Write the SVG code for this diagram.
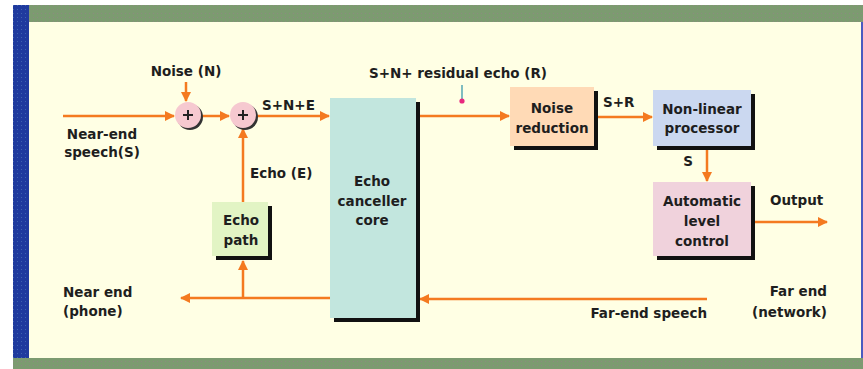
<svg xmlns="http://www.w3.org/2000/svg" width="863" height="369" viewBox="0 0 863 369">
<defs>
<style>
.t{font-family:"DejaVu Sans",sans-serif;font-weight:bold;font-size:13.5px;fill:#1e1e1e}
.m{text-anchor:middle}
.e{text-anchor:end}
.w{stroke:#F47A20;stroke-width:2.5;fill:none}
.sh{fill:#111}
</style>
<marker id="ah" viewBox="0 0 10 10" refX="9" refY="5" markerWidth="4" markerHeight="4" markerUnits="strokeWidth" orient="auto">
<path d="M0,0 L10,5 L0,10 z" fill="#F47A20"/>
</marker>
<pattern id="pg" width="4" height="4" patternUnits="userSpaceOnUse"><rect width="4" height="4" fill="#7C9B70"/><rect x="1" y="1" width="1" height="1" fill="#8C8A80"/></pattern>
<pattern id="pb" width="4" height="4" patternUnits="userSpaceOnUse"><rect width="4" height="4" fill="#1F3A9E"/><rect x="1" y="1" width="1" height="1" fill="#3E62B0"/></pattern>
</defs>
<rect x="0" y="0" width="863" height="369" fill="#ffffff"/>
<rect x="13" y="5" width="850" height="364" fill="#FFFFE4"/>
<rect x="13" y="5" width="850" height="17" fill="url(#pg)"/>
<rect x="13" y="358" width="850" height="11" fill="url(#pg)"/>
<rect x="13" y="5" width="16" height="353" fill="url(#pb)"/>
<rect x="861" y="22" width="2" height="336" fill="#4A5AC0"/>

<g id="connectors">
<path class="w" d="M63,116 H174" marker-end="url(#ah)"/>
<path class="w" d="M186,82 V101" marker-end="url(#ah)"/>
<path class="w" d="M201,116 H229" marker-end="url(#ah)"/>
<path class="w" d="M256,116 H329" marker-end="url(#ah)"/>
<path class="w" d="M243,202 V129" marker-end="url(#ah)"/>
<path class="w" d="M243,298 V261" marker-end="url(#ah)"/>
<path class="w" d="M330,298 H181" marker-end="url(#ah)"/>
<path class="w" d="M707,299 H420" marker-end="url(#ah)"/>
<path class="w" d="M419,116 H509" marker-end="url(#ah)"/>
<path class="w" d="M598,117 H652" marker-end="url(#ah)"/>
<path class="w" d="M707,150 V181" marker-end="url(#ah)"/>
<path class="w" d="M755,222 H827" marker-end="url(#ah)"/>
<line x1="462" y1="85" x2="462" y2="100" stroke="#2A90A8" stroke-width="1.2"/>
<circle cx="462" cy="101" r="2.6" fill="#E8287E"/>
</g>

<g id="sum1">
<circle cx="190" cy="117" r="13" fill="#333"/>
<circle cx="188" cy="115" r="13" fill="#F6C9D0"/>
<path d="M183,115 H193 M188,110 V120" stroke="#222" stroke-width="2"/>
</g>
<g id="sum2">
<circle cx="245" cy="117" r="13" fill="#333"/>
<circle cx="243" cy="115" r="13" fill="#F6C9D0"/>
<path d="M238,115 H248 M243,110 V120" stroke="#222" stroke-width="2"/>
</g>

<g id="echo-path">
<rect class="sh" x="216" y="206" width="56" height="54"/>
<rect x="212" y="202" width="56" height="54" fill="#E2F4C4"/>
<text class="t m" x="241" y="225">Echo</text>
<text class="t m" x="241" y="245">path</text>
</g>

<g id="echo-core">
<rect class="sh" x="334" y="102" width="86" height="220"/>
<rect x="330" y="98" width="86" height="220" fill="#C2E6DE"/>
<text class="t m" x="372" y="186">Echo</text>
<text class="t m" x="372" y="206">canceller</text>
<text class="t m" x="372" y="225">core</text>
</g>

<g id="noise-reduction">
<rect class="sh" x="514" y="91" width="84" height="59"/>
<rect x="510" y="87" width="84" height="59" fill="#FFDAB6"/>
<text class="t m" x="552" y="113">Noise</text>
<text class="t m" x="552" y="133">reduction</text>
</g>

<g id="nlp">
<rect class="sh" x="657" y="94" width="98" height="56"/>
<rect x="653" y="90" width="98" height="56" fill="#CBD8F0"/>
<text class="t m" x="702" y="114">Non-linear</text>
<text class="t m" x="702" y="133">processor</text>
</g>

<g id="alc">
<rect class="sh" x="657" y="186" width="98" height="74"/>
<rect x="653" y="182" width="98" height="74" fill="#F0D2DC"/>
<text class="t m" x="702" y="206">Automatic</text>
<text class="t m" x="702" y="226">level</text>
<text class="t m" x="702" y="246">control</text>
</g>

<g id="labels">
<text class="t m" x="186" y="76">Noise (N)</text>
<text class="t" x="262" y="110">S+N+E</text>
<text class="t m" x="102" y="139">Near-end</text>
<text class="t m" x="102" y="157">speech(S)</text>
<text class="t" x="250" y="178">Echo (E)</text>
<text class="t m" x="458" y="78">S+N+ residual echo (R)</text>
<text class="t" x="603" y="107">S+R</text>
<text class="t m" x="688" y="166">S</text>
<text class="t" x="770" y="205">Output</text>
<text class="t" x="63" y="297">Near end</text>
<text class="t" x="63" y="316">(phone)</text>
<text class="t e" x="827" y="296">Far end</text>
<text class="t e" x="827" y="317">(network)</text>
<text class="t e" x="707" y="318">Far-end speech</text>
</g>
</svg>
